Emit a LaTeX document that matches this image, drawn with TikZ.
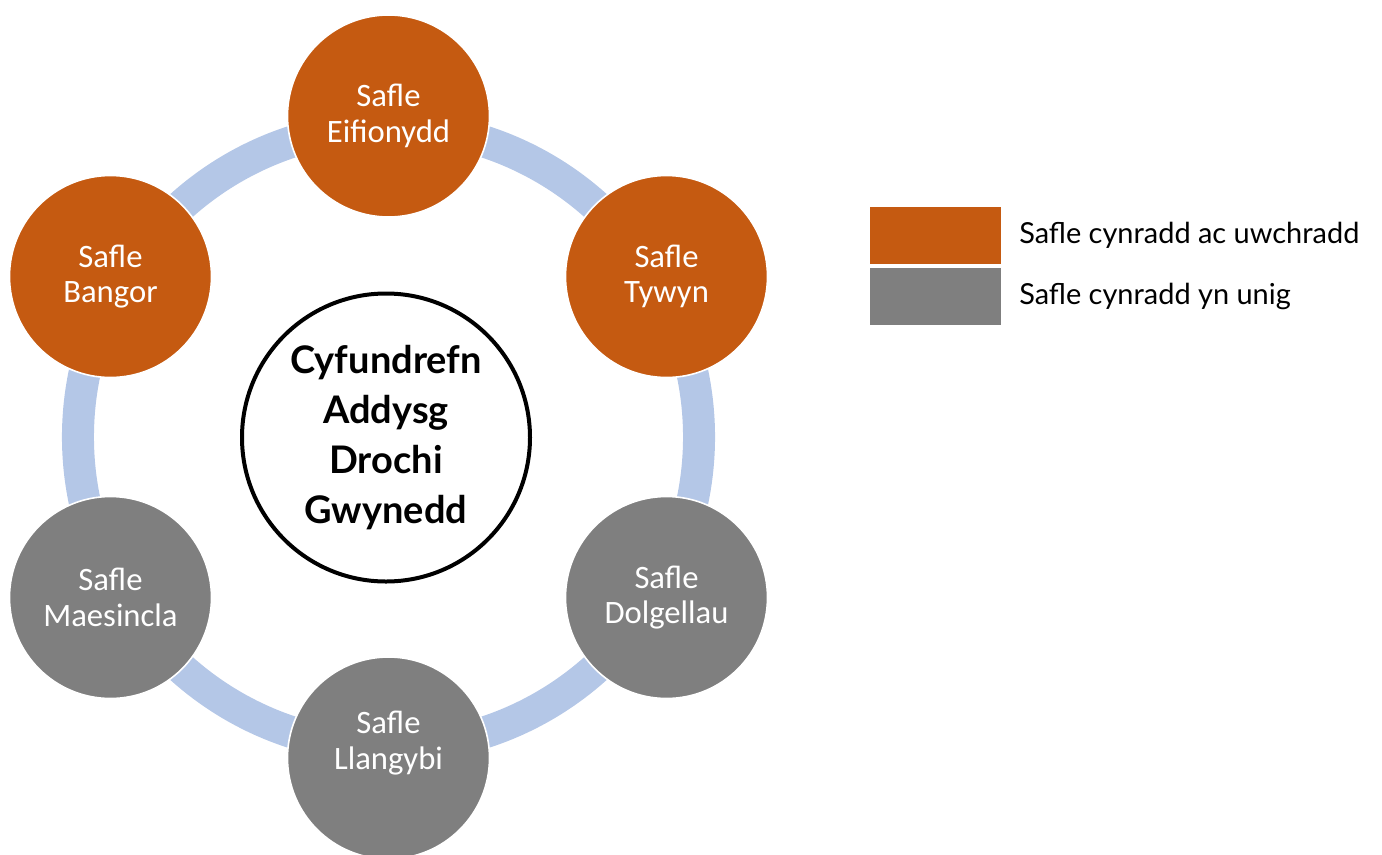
\documentclass[tikz,border=0pt]{standalone}
\usepackage{fontspec}
\setmainfont{Carlito}
\newfontfamily\gillfont{Lato}
\definecolor{ringblue}{HTML}{B4C7E7}
\definecolor{siteorange}{HTML}{C55A11}
\definecolor{sitegray}{HTML}{7F7F7F}
\tikzset{
  site/.style={circle, draw=white, line width=1.2pt, minimum size=151.5pt, inner sep=0pt,
    text=white, align=center, font=\fontsize{24.5}{26.5}\selectfont},
  orangesite/.style={site, fill=siteorange},
  graysite/.style={site, fill=sitegray},
  hub/.style={circle, draw=black, line width=3pt, fill=white, minimum size=216pt, inner sep=0pt,
    align=center, font=\gillfont\bfseries\fontsize{28.5}{37.5}\selectfont},
  legendbox/.style={rectangle, minimum width=98.25pt, minimum height=42.75pt, inner sep=0pt},
  legendtext/.style={anchor=west, inner sep=0pt, font=\gillfont\fontsize{21.7}{26}\selectfont}
}
\begin{document}
\begin{tikzpicture}[x=0.75pt,y=-0.75pt]
\useasboundingbox (0,0) rectangle (1382,854);
\coordinate (c) at (388.5,437);
\draw[ringblue, line width=24pt] (c) circle [radius=232.9pt];
\node[orangesite] (eif) at (388.5,116) {Safle\\Eifionydd};
\node[orangesite] (tyw) at (666.5,276.5) {Safle\\Tywyn};
\node[graysite] (dol) at (666.5,597.5) {Safle\\Dolgellau};
\node[graysite] (lla) at (388.5,758) {Safle\\Llangybi\\\mbox{}};
\node[graysite] (mae) at (110.5,597.5) {Safle\\Maesincla};
\node[orangesite] (ban) at (110.5,276.5) {Safle\\Bangor};
\node[hub] (hub) at (386,437.5) {Cyfundrefn\\Addysg\\Drochi\\Gwynedd};
\node[legendbox, fill=siteorange] (lo) at (935.5,235.5) {};
\node[legendbox, fill=sitegray] (lg) at (935.5,296.5) {};
\node[legendtext] (to) at (1019,235.5) {Safle cynradd ac uwchradd};
\node[legendtext] (tg) at (1019,296.5) {Safle cynradd yn unig};
\end{tikzpicture}
\end{document}
